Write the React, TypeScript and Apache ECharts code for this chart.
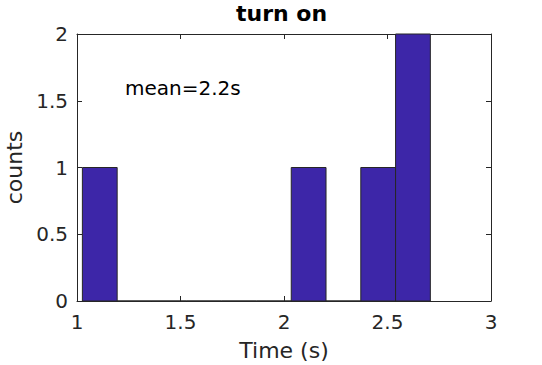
import React, { useEffect, useRef } from "react";
import * as echarts from "echarts";

const binEdges = [1.026, 1.194, 1.362, 1.53, 1.698, 1.867, 2.035, 2.203, 2.371, 2.539, 2.707];
const counts = [1, 0, 0, 0, 0, 0, 1, 0, 1, 2];
const xTicks = [1, 1.5, 2, 2.5, 3];
const yTicks = [0, 0.5, 1, 1.5, 2];
const titleText = "turn on";
const meanText = "mean=2.2s";

const FONT = "DejaVu Sans";
const INK = "#262626";

export default function App() {
  const ref = useRef<HTMLDivElement>(null);
  useEffect(() => {
    if (!ref.current) return;
    const chart = echarts.init(ref.current, null, { renderer: "svg" });
    const data = counts.map((c, i) => [binEdges[i], binEdges[i + 1], c]);
    const axisCommon = {
      type: "value" as const,
      axisLine: { show: true, onZero: false, lineStyle: { color: INK, width: 1 } },
      axisTick: { show: true, inside: true, length: 5, lineStyle: { color: INK } },
      splitLine: { show: false },
    };
    const xMin = xTicks[0], xMax = xTicks[xTicks.length - 1];
    const yMin = yTicks[0], yMax = yTicks[yTicks.length - 1];
    chart.setOption({
      animation: false,
      backgroundColor: "#ffffff",
      title: {
        text: titleText,
        left: 236,
        top: 2,
        padding: 0,
        textStyle: { fontFamily: FONT, fontWeight: "bold", fontSize: 22, color: "#000" },
      },
      grid: {
        left: 77,
        top: 34,
        right: 51,
        bottom: 64,
        containLabel: false,
        outerBoundsMode: "none",
      },
      xAxis: [
        {
          ...axisCommon,
          min: xMin,
          max: xMax,
          interval: 0.5,
          name: "Time (s)",
          nameLocation: "middle",
          nameGap: 38,
          nameTextStyle: { fontFamily: FONT, fontSize: 22, color: INK },
          axisLabel: { fontFamily: FONT, fontSize: 20, color: INK, margin: 11 },
        },
        {
          ...axisCommon,
          position: "top",
          min: xMin,
          max: xMax,
          interval: 0.5,
          axisLabel: { show: false },
        },
      ],
      yAxis: [
        {
          ...axisCommon,
          min: yMin,
          max: yMax,
          interval: 0.5,
          name: "counts",
          nameLocation: "middle",
          nameGap: 46,
          nameTextStyle: { fontFamily: FONT, fontSize: 22, color: INK },
          axisLabel: { fontFamily: FONT, fontSize: 20, color: INK, margin: 9 },
        },
        {
          ...axisCommon,
          position: "right",
          min: yMin,
          max: yMax,
          interval: 0.5,
          axisLabel: { show: false },
        },
      ],
      graphic: [
        {
          type: "text",
          left: 125,
          top: 78,
          style: { text: meanText, fontFamily: FONT, fontSize: 20, fill: "#000" },
        },
      ],
      series: [
        {
          type: "custom",
          xAxisIndex: 0,
          yAxisIndex: 0,
          encode: { x: [0, 1], y: 2 },
          data,
          renderItem: (params: any, api: any) => {
            const x0 = api.value(0);
            const x1 = api.value(1);
            const c = api.value(2);
            const p0 = api.coord([x0, 0]);
            const p1 = api.coord([x1, c]);
            return {
              type: "rect",
              shape: { x: p0[0], y: p1[1], width: p1[0] - p0[0], height: p0[1] - p1[1] },
              style: { fill: "#3d26a8", stroke: INK, lineWidth: 1 },
            };
          },
        },
      ],
    });
    return () => chart.dispose();
  }, []);
  return (
    <div
      ref={ref}
      style={{ position: "fixed", left: 0, top: 0, width: 542, height: 365, background: "#fff" }}
    />
  );
}
